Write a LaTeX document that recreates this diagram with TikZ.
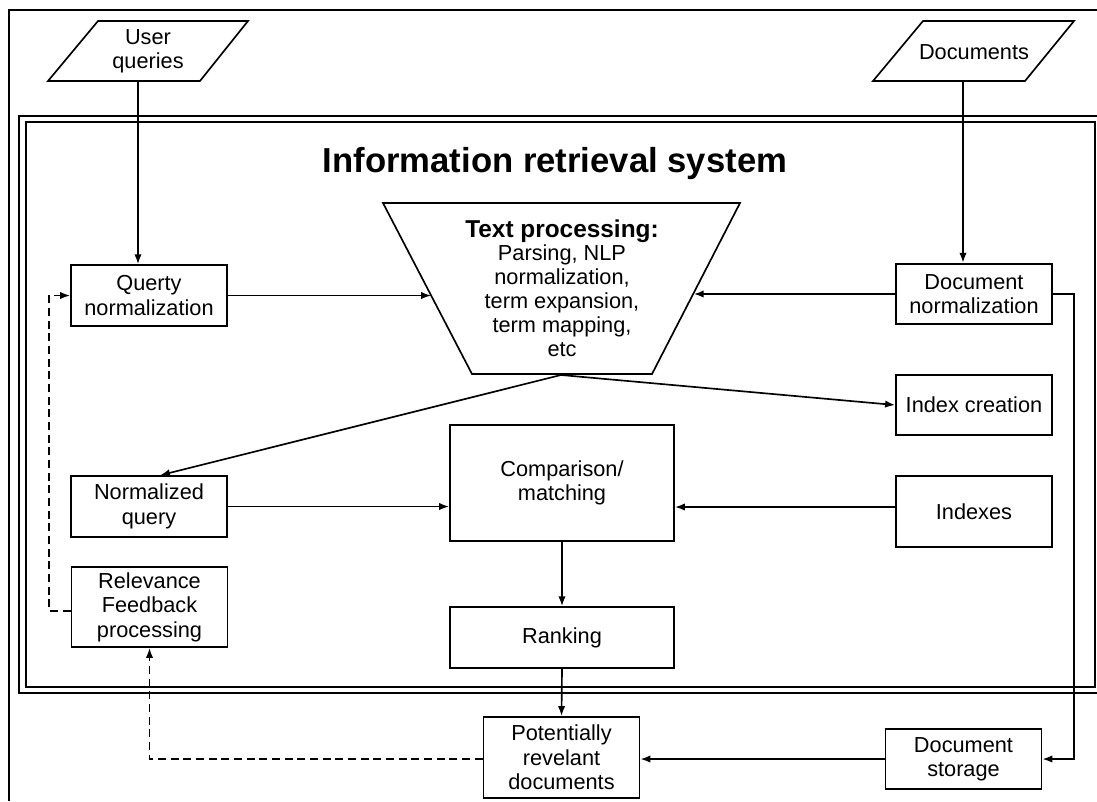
\documentclass[tikz,border=0pt]{standalone}
\usepackage{fontspec}
\setmainfont{Liberation Sans}
\usetikzlibrary{arrows.meta,calc}
\begin{document}
\begin{tikzpicture}[x=0.75pt,y=-0.75pt,
  every node/.style={font=\fontsize{16.3pt}{18.3pt}\selectfont, align=center},
  box/.style={draw, line width=1.3pt, rectangle, inner sep=0pt,
              minimum width=117pt, minimum height=45.5pt},
  ln/.style={line width=1.25pt},
  arr/.style={ln, -{Latex[length=7.5pt,width=5.5pt]}},
  dsh/.style={arr, dash pattern=on 6pt off 3.5pt},
  frame/.style={line width=1.3pt}]
\useasboundingbox (0,0) rectangle (1097,801);

% page border
\draw[frame] (9,801) -- (9,10) -- (1100,10);
% double frame of the system
\draw[frame] (19,116) rectangle (1110,693);
\draw[frame] (26,122) rectangle (1095,687);

\node[font=\fontsize{26pt}{30pt}\selectfont\bfseries, anchor=base] (title) at (555,172) {Information retrieval system};

% input parallelograms
\coordinate (uqA) at (98,21);  \coordinate (uqB) at (248,21);
\coordinate (uqC) at (200,81); \coordinate (uqD) at (48,81);
\draw[ln] (uqA) -- (uqB) -- (uqC) -- (uqD) -- cycle;
\node (uq) at (148,51) {User\\queries};
\coordinate (uqout) at (138,81);

\coordinate (dcA) at (923,21);  \coordinate (dcB) at (1074,21);
\coordinate (dcC) at (1025,81); \coordinate (dcD) at (873,81);
\draw[ln] (dcA) -- (dcB) -- (dcC) -- (dcD) -- cycle;
\node (dc) at (974,52) {Documents};
\coordinate (dcout) at (963,81);

% text processing funnel
\coordinate (tpA) at (383,203); \coordinate (tpB) at (740,203);
\coordinate (tpC) at (652,374); \coordinate (tpD) at (472,374);
\draw[ln] (tpA) -- (tpB) -- (tpC) -- (tpD) -- cycle;
\node[font=\fontsize{16.3pt}{17.9pt}\selectfont] (tp) at (562,288) {{\fontsize{18.3pt}{20pt}\selectfont\bfseries Text processing:}\\Parsing, NLP\\normalization,\\term expansion,\\term mapping,\\etc};
\coordinate (tpL) at ($(tpA)!0.541!(tpD)$);
\coordinate (tpR) at ($(tpB)!0.526!(tpC)$);
\coordinate (tpout) at (561,375);

% boxes
\node[box] (qn) at (149,295.5) {Querty\\normalization};
\node[box] (dn) at (974,294) {Document\\normalization};
\node[box] (ic) at (974,405) {Index creation};
\node[box] (nq) at (149,506.5) {Normalized\\query};
\node[box, minimum width=168pt, minimum height=87pt] (cm) at (562,483) {Comparison/\\matching};
\node[box, minimum height=53.25pt] (ix) at (974,511.5) {Indexes};
\node[box, minimum height=60pt] (rf) at (149.5,607) {Relevance\\Feedback\\processing};
\node[box, minimum width=168pt] (rk) at (562,637.5) {Ranking};
\node[box, minimum height=60.75pt] (prd) at (561.5,757.5) {Potentially\\revelant\\documents};
\node[box] (ds) at (963.5,759) {Document\\storage};

% connectors
\draw[arr] (uqout) -- (uqout |- qn.north);
\draw[arr] (dcout) -- (dcout |- dn.north);
\draw[arr] (qn.east) -- (qn.east -| tpL);
\draw[arr] (dn.west) -- (dn.west -| tpR);
\draw[arr] (tpout) -- ($(nq.north)+(11,0)$);
\draw[arr] (tpout) -- (ic.west);
\draw[arr] (nq.east) -- (nq.east -| cm.west);
\draw[arr] (ix.west |- 0,507) -- (cm.east |- 0,507);
\draw[arr] (cm.south) -- (rk.north);
\draw[arr] (rk.south) -- (prd.north);
\draw[arr] (ds.west) -- (ds.west -| prd.east);
\draw[arr] (dn.east |- 0,294) -- (1074,294) -- (1074,759) -- (ds.east |- 0,759);
\draw[dsh] (rf.west |- 0,611) -- (49,611) -- (49,295.5) -- (qn.west);
\draw[dsh] (prd.west |- 0,759) -- (149.5,759) -- (rf.south);
\end{tikzpicture}
\end{document}
